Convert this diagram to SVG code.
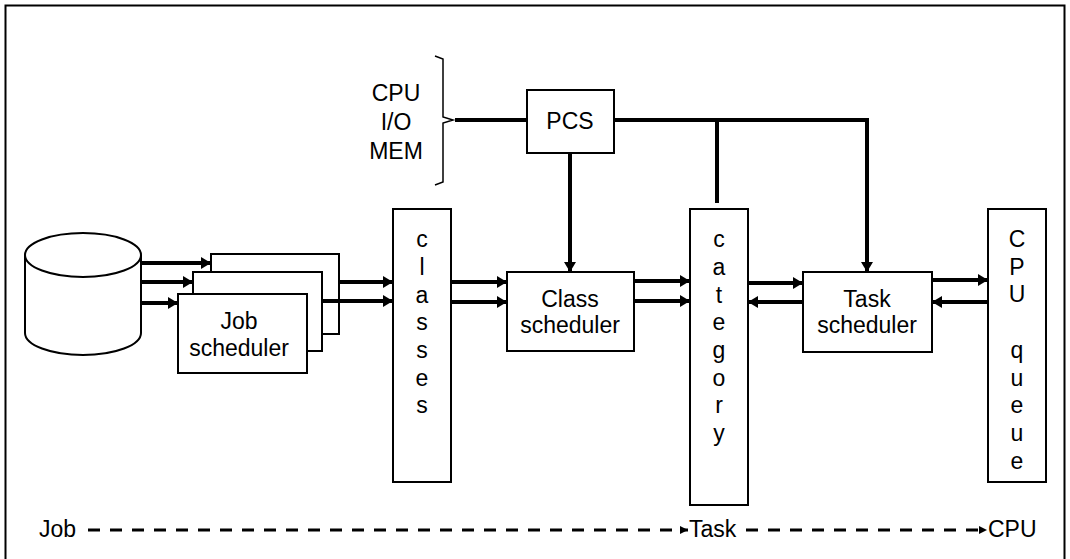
<svg xmlns="http://www.w3.org/2000/svg" width="1070" height="559" viewBox="0 0 1070 559">
<style>
.box{fill:#fff;stroke:#000;stroke-width:2}
.t{font-family:"Liberation Sans",Arial,sans-serif;font-size:23px;fill:#000;text-anchor:middle}
.tl{font-family:"Liberation Sans",Arial,sans-serif;font-size:23px;fill:#000}
.heavy{fill:none;stroke:#000;stroke-width:4}
.dash{fill:none;stroke:#000;stroke-width:3;stroke-dasharray:12 10}
</style>
<defs>
<marker id="ah" markerUnits="userSpaceOnUse" markerWidth="10" markerHeight="12" refX="10" refY="6" orient="auto">
<path d="M0,0 L10,6 L0,12 z" fill="#000"/>
</marker>
<marker id="as" markerUnits="userSpaceOnUse" markerWidth="8" markerHeight="8" refX="8" refY="4" orient="auto">
<path d="M0,0 L8,4 L0,8 z" fill="#000"/>
</marker>
</defs>
<rect width="1070" height="559" fill="#fff"/>
<path d="M5.5,570 L5.5,5.5 L1064.5,5.5 L1064.5,570" fill="none" stroke="#000" stroke-width="2"/>

<g id="resources">
<path d="M435,56 L443,59 L443,117 L453,120 L443,123 L443,182 L435,185" fill="none" stroke="#000" stroke-width="1.5"/>
<text class="t" x="396" y="101">CPU</text>
<text class="t" x="396" y="130">I/O</text>
<text class="t" x="396" y="159">MEM</text>
</g>

<g id="pcs">
<rect class="box" x="527" y="90" width="87" height="63"/>
<text class="t" x="570" y="129">PCS</text>
</g>

<g id="database">
<path d="M25,255 L25,333 A58,22 0 0 0 141,333 L141,255" fill="#fff" stroke="#000" stroke-width="2"/>
<ellipse cx="83" cy="255" rx="58" ry="22" fill="#fff" stroke="#000" stroke-width="2"/>
</g>

<g id="job-scheduler">
<rect class="box" x="211" y="254" width="128" height="80"/>
<rect class="box" x="193" y="272" width="129" height="79"/>
<rect class="box" x="178" y="294" width="129" height="79"/>
<text class="t" x="239" y="329">Job</text>
<text class="t" x="239" y="356">scheduler</text>
</g>

<g id="classes">
<rect class="box" x="393" y="209" width="58" height="273"/>
<text class="t" x="422" y="247">c</text>
<text class="t" x="422" y="275">l</text>
<text class="t" x="422" y="303">a</text>
<text class="t" x="422" y="330">s</text>
<text class="t" x="422" y="358">s</text>
<text class="t" x="422" y="386">e</text>
<text class="t" x="422" y="413">s</text>
</g>

<g id="class-scheduler">
<rect class="box" x="507" y="272" width="127" height="79"/>
<text class="t" x="570" y="307">Class</text>
<text class="t" x="570" y="333">scheduler</text>
</g>

<g id="category">
<rect class="box" x="690" y="209" width="58" height="296"/>
<text class="t" x="719" y="247">c</text>
<text class="t" x="719" y="275">a</text>
<text class="t" x="719" y="303">t</text>
<text class="t" x="719" y="330">e</text>
<text class="t" x="719" y="358">g</text>
<text class="t" x="719" y="386">o</text>
<text class="t" x="719" y="413">r</text>
<text class="t" x="719" y="441">y</text>
</g>

<g id="task-scheduler">
<rect class="box" x="803" y="272" width="129" height="80"/>
<text class="t" x="867" y="307">Task</text>
<text class="t" x="867" y="333">scheduler</text>
</g>

<g id="cpu-queue">
<rect class="box" x="988" y="209" width="58" height="273"/>
<text class="t" x="1017" y="247">C</text>
<text class="t" x="1017" y="275">P</text>
<text class="t" x="1017" y="302">U</text>
<text class="t" x="1017" y="358">q</text>
<text class="t" x="1017" y="386">u</text>
<text class="t" x="1017" y="413">e</text>
<text class="t" x="1017" y="441">u</text>
<text class="t" x="1017" y="469">e</text>
</g>

<g id="connectors">
<line class="heavy" x1="455" y1="120" x2="527" y2="120"/>
<line class="heavy" x1="570" y1="153" x2="570" y2="272" marker-end="url(#ah)"/>
<path class="heavy" d="M614,120 L867,120 L867,272" marker-end="url(#ah)"/>
<line class="heavy" x1="717" y1="120" x2="717" y2="203"/>

<line class="heavy" x1="141" y1="263" x2="211" y2="263" marker-end="url(#ah)"/>
<line class="heavy" x1="141" y1="282" x2="193" y2="282" marker-end="url(#ah)"/>
<line class="heavy" x1="141" y1="303" x2="178" y2="303" marker-end="url(#ah)"/>

<line class="heavy" x1="340" y1="282" x2="393" y2="282" marker-end="url(#ah)"/>
<line class="heavy" x1="322" y1="301" x2="393" y2="301" marker-end="url(#ah)"/>

<line class="heavy" x1="451" y1="282" x2="507" y2="282" marker-end="url(#ah)"/>
<line class="heavy" x1="451" y1="302" x2="507" y2="302" marker-end="url(#ah)"/>

<line class="heavy" x1="634" y1="281" x2="690" y2="281" marker-end="url(#ah)"/>
<line class="heavy" x1="634" y1="301" x2="690" y2="301" marker-end="url(#ah)"/>

<line class="heavy" x1="748" y1="283" x2="803" y2="283" marker-end="url(#ah)"/>
<line class="heavy" x1="803" y1="302" x2="748" y2="302" marker-end="url(#ah)"/>

<line class="heavy" x1="932" y1="280" x2="988" y2="280" marker-end="url(#ah)"/>
<line class="heavy" x1="988" y1="302" x2="932" y2="302" marker-end="url(#ah)"/>

<line class="dash" x1="88" y1="530" x2="688" y2="530" marker-end="url(#as)"/>
<line class="dash" x1="746" y1="530" x2="987" y2="530" marker-end="url(#as)"/>
</g>

<g id="legend">
<text class="tl" x="39" y="537">Job</text>
<text class="tl" x="689" y="537">Task</text>
<text class="tl" x="988" y="537">CPU</text>
</g>
</svg>
